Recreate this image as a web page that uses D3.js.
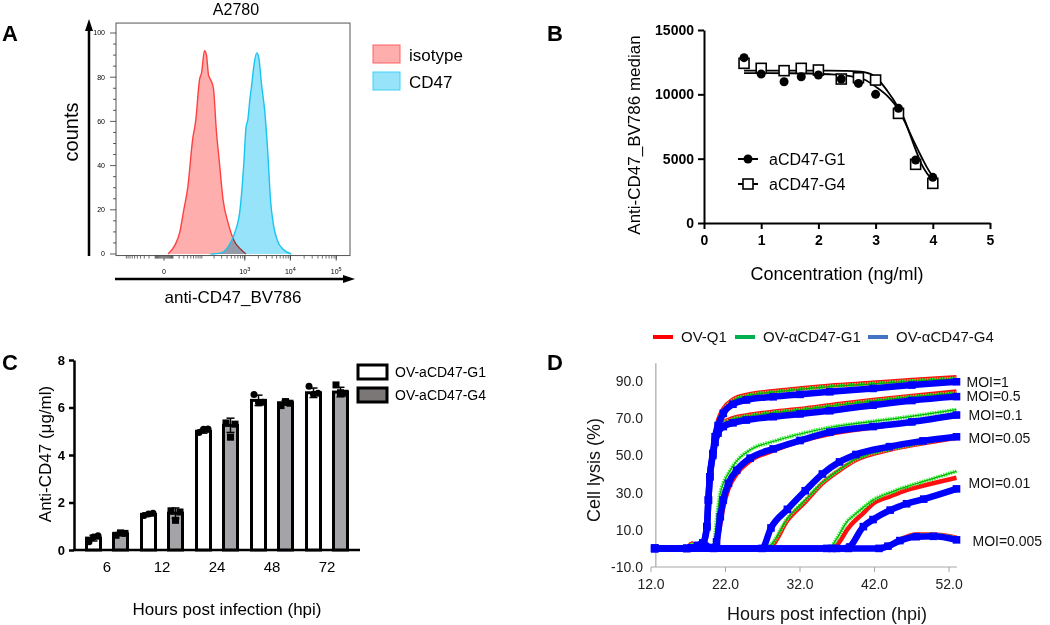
<!DOCTYPE html>
<html><head><meta charset="utf-8">
<script src="https://cdn.jsdelivr.net/npm/d3@7"></script>
<style>
body{margin:0;background:#fff;}
svg{font-family:"Liberation Sans",Arial,sans-serif;}
</style></head><body>
<svg id="c" width="1050" height="625"></svg>
<script>
// ---------- Panel A data (flow histogram) ----------
const isoX  = [3.9, 12.8, 21.4, 29.9, 40.4, 56.7, 68.6, 87.5, 98.4, 117, 131, 147, 164, 193, 226, 265, 327, 424, 577, 823, 1060];
const isoY  = [0, 4, 10, 20, 30, 52, 60, 79, 82, 92, 90, 81, 79, 75, 56, 42, 24, 14, 6, 2, 0];
const cd47X = [164, 295, 446, 607, 782, 958, 1060, 1172, 1296, 1432, 1584, 1840, 2032, 2361, 2743, 3186, 3700, 4293, 5236, 7052, 10480];
const cd47Y = [0, 0.5, 4, 10, 20, 42, 57, 61, 70, 77, 85, 91, 89, 76, 65, 47, 24, 13, 6, 2, 0];
const aXTickLabels = [["0",""],["10","3"],["10","4"],["10","5"]];
const aXTickValues = [0, 1000, 10000, 100000];
const aLegend = ["isotype", "CD47"];

// ---------- Panel B data ----------
const concLog  = [0.7, 1.0, 1.4, 1.7, 2.0, 2.4, 2.7, 3.0, 3.4, 3.7, 4.0];
const g1Median = [12850, 11580, 10980, 11370, 11500, 11190, 10850, 10000, 8910, 4900, 3550];
const g4Median = [12410, 12020, 11840, 12020, 11890, 11190, 11290, 11110, 8520, 4560, 3080];
const fitLog   = [0.7, 1.5, 2.2, 2.5, 2.8, 3.0, 3.2, 3.4, 3.5, 3.6, 3.7, 3.8, 3.9, 4.0];
const g1Fit    = [11650, 11640, 11560, 11450, 11150, 10600, 9900, 8800, 7950, 7000, 6050, 5150, 4300, 3600];
const g4Fit    = [11850, 11850, 11840, 11820, 11720, 11350, 10300, 8950, 8100, 6900, 5700, 4600, 3850, 3320];
const bLegend  = ["aCD47-G1", "aCD47-G4"];

// ---------- Panel C data ----------
const hpi    = ["6", "12", "24", "48", "72"];
const g1Mean = [0.5, 1.5, 5.0, 6.3, 6.62];
const g4Mean = [0.68, 1.55, 5.25, 6.2, 6.65];
const g1SD   = [0.12, 0.06, 0.08, 0.22, 0.2];
const g4SD   = [0.07, 0.22, 0.3, 0.1, 0.2];
const g1Reps = [[0.35, 0.55, 0.6], [1.45, 1.52, 1.55], [4.95, 5.08, 5.1], [6.55, 6.2, 6.22], [6.9, 6.55, 6.6]];
const g4Reps = [[0.62, 0.72, 0.7], [1.65, 1.25, 1.6], [5.35, 4.75, 5.3], [6.08, 6.25, 6.18], [6.95, 6.62, 6.6]];
const cLegend = ["OV-aCD47-G1", "OV-aCD47-G4"];

// ---------- Panel D data (cell lysis %) ----------
const hoursMOI1 = [12.5, 16.8, 17.5, 18.3, 19.0, 19.5, 19.7, 19.9, 20.3, 20.6, 21.0, 21.7, 23.0, 24.8, 28.4, 32.0, 36.0, 41.8, 47.0, 53.0];
const q1MOI1  = [0, 0, 2.5, 0.8, 1.5, 12, 27, 40, 53, 62, 69, 75, 80, 82.5, 84.5, 86, 87.5, 89, 90.5, 92];
const g1MOI1  = [0, 0, 2, 0.8, 1.5, 11, 26, 39, 52, 61, 68, 74, 79.5, 82, 84, 85.5, 87, 88.5, 90, 91.3];
const g4MOI1  = [0, 0, 0.3, 1.5, 3, 11.7, 26, 38.5, 51, 60, 66, 72.6, 77.5, 79.8, 81.5, 82.8, 84.2, 86, 87.8, 89.6];
const q1MOI05 = [0, 0, 2.5, 0.8, 1.5, 12, 27, 40, 52, 59, 64, 67.5, 70, 71.5, 73.5, 75, 77, 79.8, 82, 84.3];
const g1MOI05 = [0, 0, 2, 0.8, 1.5, 11, 26, 39, 51, 58, 63, 67, 69.5, 71, 73, 74.5, 76.5, 79.3, 81.5, 83.5];
const g4MOI05 = [0, 0, 0.3, 1.5, 3, 11.7, 26, 38.5, 50, 57, 62, 65.5, 67.5, 69, 70.8, 72.3, 74, 77, 79.5, 81.6];
const hoursMOI01 = [12.5, 16.8, 17.5, 18.3, 19.0, 19.8, 20.4, 20.8, 21.3, 21.7, 22.4, 23.5, 25.3, 28.4, 32.0, 36.0, 41.8, 47.0, 53.0];
const q1MOI01 = [0, 0, 2.5, 0.8, 1.5, 0.3, 0, 2, 13, 22, 32, 40, 47, 52.5, 57.5, 61.5, 65, 68, 72];
const g1MOI01 = [0, 0, 2, 0.8, 1.5, 0.3, 0, 15, 29.7, 35, 40.4, 47, 53, 57.5, 61.5, 65, 68.3, 71, 74.6];
const g4MOI01 = [0, 0, 0.3, 1.5, 3, 0.5, 0, 3.6, 17, 26, 35, 42, 48.5, 53.5, 58, 62.5, 65.5, 68, 71.7];
const hoursMOI005 = [12.5, 26.9, 28.1, 30.3, 32.7, 35.0, 37.3, 39.5, 44.0, 48.5, 53.0];
const q1MOI005 = [0, 0, 1, 15, 25, 35, 42, 47.5, 53, 56.5, 59.5];
const g1MOI005 = [0, 0, 2, 16, 26, 35.5, 42.5, 48, 53.3, 56.8, 59.8];
const g4MOI005 = [0, 0, 11, 21, 31, 40, 46.5, 50.5, 54.7, 57.8, 60];
const hoursMOI001 = [12.5, 35.6, 36.3, 36.9, 38.5, 38.7, 40.5, 41.8, 44.1, 46.3, 48.6, 53.0];
const q1MOI001 = [0, 0, 0, 1.5, 11, 12, 19, 24, 28, 31.4, 33.8, 38];
const g1MOI001 = [0, 0, 1.5, 5, 15.3, 16, 22, 26, 30, 33.2, 36, 41.5];
const g4MOI001 = [0, 0, 0, 0, 0, 0.8, 11.7, 15.5, 20.6, 24, 26.5, 32];
const hoursMOI0005 = [12.5, 42.6, 43.8, 45.4, 47.6, 49.9, 53.0];
const q1MOI0005 = [0, 0, 1.5, 4.8, 7.5, 7.5, 5.8];
const g1MOI0005 = [0, 0, 1.5, 4.6, 7.2, 7.3, 5.6];
const g4MOI0005 = [0, 0, 1.2, 4.2, 6.3, 6.5, 4.6];
const moiLabels = ["MOI=1", "MOI=0.5", "MOI=0.1", "MOI=0.05", "MOI=0.01", "MOI=0.005"];
const moiLabelY = [89.5, 81.9, 71.7, 59.4, 35.2, 4.0];
const dSeries = ["OV-Q1", "OV-\u03b1CD47-G1", "OV-\u03b1CD47-G4"];
const dYTicks = [-10, 10, 30, 50, 70, 90];
const dXTicks = [12, 22, 32, 42, 52];

const svg = d3.select("#c");
const zip = (a, b) => a.map((v, i) => [v, b[i]]);

// panel letters
[["A", 2, 41], ["B", 547, 41], ["C", 2, 370], ["D", 547, 370]].forEach(([t, x, y]) =>
  svg.append("text").attr("x", x).attr("y", y).attr("font-size", 22).attr("font-weight", "bold").text(t));

// ================= Panel A =================
{
  const g = svg.append("g");
  const xA = d3.scaleSymlog().constant(17.7).domain([-180, 200000]).range([116, 350]);
  const yA = d3.scaleLinear().domain([0, 100]).range([254, 33]);
  const y0 = yA(0);
  const area = d3.area().x(d => xA(d[0])).y0(y0).y1(d => yA(d[1])).curve(d3.curveMonotoneX);
  const line = d3.line().x(d => xA(d[0])).y(d => yA(d[1])).curve(d3.curveMonotoneX);
  const iso = zip(isoX, isoY), cd = zip(cd47X, cd47Y);
  g.append("path").attr("d", area(iso)).attr("fill", "#ff6b6b").attr("fill-opacity", 0.55);
  g.append("path").attr("d", line(iso)).attr("fill", "none").attr("stroke", "#ff4040").attr("stroke-width", 1.4);
  g.append("path").attr("d", area(cd)).attr("fill", "#2ec8f5").attr("fill-opacity", 0.5).style("mix-blend-mode", "multiply");
  g.append("path").attr("d", line(cd)).attr("fill", "none").attr("stroke", "#18c4f0").attr("stroke-width", 1.4);
  // frame
  g.append("rect").attr("x", 116).attr("y", yA(104.5)).attr("width", 234).attr("height", yA(-0.7) - yA(104.5))
    .attr("fill", "none").attr("stroke", "#555").attr("stroke-width", 1);
  const fb = yA(-0.7);
  // y ticks
  d3.range(0, 101, 5).forEach(v => {
    const major = v % 20 === 0;
    g.append("line").attr("x1", 116 - (major ? 6 : 3)).attr("x2", 116).attr("y1", yA(v)).attr("y2", yA(v)).attr("stroke", "#333").attr("stroke-width", 0.8);
    if (major) g.append("text").attr("x", 105).attr("y", yA(v)).attr("dy", "0.35em").attr("text-anchor", "end").attr("font-size", 7).text(v);
  });
  // x ticks (biexponential)
  const minor = [];
  for (let k = 0; k <= 5; k++) for (let m = 1; m <= 9; m++) { minor.push(m * 10 ** k); minor.push(-m * 10 ** k); }
  minor.filter(v => v > -180 && v < 200000).forEach(v => {
    g.append("line").attr("x1", xA(v)).attr("x2", xA(v)).attr("y1", fb).attr("y2", fb + 3).attr("stroke", "#333").attr("stroke-width", 0.7);
  });
  aXTickValues.forEach((v, i) => {
    g.append("line").attr("x1", xA(v)).attr("x2", xA(v)).attr("y1", fb).attr("y2", fb + 5).attr("stroke", "#333").attr("stroke-width", 0.9);
    const t = g.append("text").attr("x", xA(v)).attr("y", 274).attr("text-anchor", "middle").attr("font-size", 7);
    t.append("tspan").text(aXTickLabels[i][0]);
    if (aXTickLabels[i][1]) t.append("tspan").attr("dy", -3).attr("font-size", 5.5).text(aXTickLabels[i][1]);
  });
  // arrows
  g.append("line").attr("x1", 89).attr("x2", 89).attr("y1", 256).attr("y2", 28).attr("stroke", "#000").attr("stroke-width", 2.5);
  g.append("path").attr("d", "M89,19 L85,31 L93,31 Z").attr("fill", "#000");
  g.append("line").attr("x1", 115).attr("x2", 346).attr("y1", 279).attr("y2", 279).attr("stroke", "#000").attr("stroke-width", 2.5);
  g.append("path").attr("d", "M355,279 L343,275 L343,283 Z").attr("fill", "#000");
  g.append("text").attr("x", 236).attr("y", 15).attr("text-anchor", "middle").attr("font-size", 16).text("A2780");
  g.append("text").attr("transform", "translate(78,132) rotate(-90)").attr("text-anchor", "middle").attr("font-size", 20).text("counts");
  g.append("text").attr("x", 233).attr("y", 303).attr("text-anchor", "middle").attr("font-size", 17).text("anti-CD47_BV786");
  // legend
  const lf = [["#ff6b6b", 0.55, "#ff6060"], ["#2ec8f5", 0.5, "#40d0f5"]];
  aLegend.forEach((t, i) => {
    g.append("rect").attr("x", 373).attr("y", 45 + i * 27).attr("width", 27).attr("height", 18)
      .attr("fill", lf[i][0]).attr("fill-opacity", lf[i][1]).attr("stroke", lf[i][2]).attr("stroke-width", 1);
    g.append("text").attr("x", 409).attr("y", 61 + i * 27).attr("font-size", 17).text(t);
  });
}

// ================= Panel B =================
{
  const g = svg.append("g");
  const xB = d3.scaleLinear().domain([0, 5]).range([704, 990]);
  const yB = d3.scaleLinear().domain([0, 15000]).range([223, 30]);
  const ax = g.append("g").attr("transform", "translate(0,223)")
    .call(d3.axisBottom(xB).tickValues([0, 1, 2, 3, 4, 5]).tickFormat(d3.format("d")).tickSize(6).tickSizeOuter(0).tickPadding(6));
  const ay = g.append("g").attr("transform", "translate(704,0)")
    .call(d3.axisLeft(yB).tickValues([0, 5000, 10000, 15000]).tickFormat(d3.format("d")).tickSize(6).tickSizeOuter(0).tickPadding(4));
  [ax, ay].forEach(a => {
    a.select(".domain").attr("stroke-width", 2);
    a.selectAll(".tick line").attr("stroke-width", 2);
    a.selectAll("text").attr("font-size", 14).attr("font-weight", "bold").attr("font-family", '"Liberation Sans",Arial,sans-serif').attr("fill", "#000");
  });
  const fl = d3.line().x(d => xB(d[0])).y(d => yB(d[1])).curve(d3.curveMonotoneX);
  g.append("path").attr("d", fl(zip(fitLog, g1Fit))).attr("fill", "none").attr("stroke", "#000").attr("stroke-width", 1.8);
  g.append("path").attr("d", fl(zip(fitLog, g4Fit))).attr("fill", "none").attr("stroke", "#000").attr("stroke-width", 1.8);
  concLog.forEach((c, i) => {
    g.append("rect").attr("x", xB(c) - 5).attr("y", yB(g4Median[i]) - 5).attr("width", 10).attr("height", 10)
      .attr("fill", "#fff").attr("stroke", "#000").attr("stroke-width", 1.6);
  });
  concLog.forEach((c, i) => {
    g.append("circle").attr("cx", xB(c)).attr("cy", yB(g1Median[i])).attr("r", 4.5).attr("fill", "#000");
  });
  bLegend.forEach((t, i) => {
    const y = 159 + i * 25;
    g.append("line").attr("x1", 738).attr("x2", 758).attr("y1", y).attr("y2", y).attr("stroke", "#000").attr("stroke-width", 2);
    if (i === 0) g.append("circle").attr("cx", 748).attr("cy", y).attr("r", 4.5).attr("fill", "#000");
    else g.append("rect").attr("x", 743).attr("y", y - 5).attr("width", 10).attr("height", 10).attr("fill", "#fff").attr("stroke", "#000").attr("stroke-width", 1.6);
    g.append("text").attr("x", 769).attr("y", y + 6).attr("font-size", 16).text(t);
  });
  g.append("text").attr("transform", "translate(640,135) rotate(-90)").attr("text-anchor", "middle").attr("font-size", 17).text("Anti-CD47_BV786 median");
  g.append("text").attr("x", 837).attr("y", 280).attr("text-anchor", "middle").attr("font-size", 18).text("Concentration (ng/ml)");
}

// ================= Panel C =================
{
  const g = svg.append("g");
  const yC = d3.scaleLinear().domain([0, 8]).range([550, 360]);
  const xC = d3.scaleBand().domain(hpi).range([79.5, 354.5]);
  const x1 = d3.scaleBand().domain(["G1", "G4"]).range([-20.5, 20.5]).paddingInner(13 / 27).paddingOuter(0);
  const ay = g.append("g").attr("transform", "translate(74,0)")
    .call(d3.axisLeft(yC).tickValues([0, 2, 4, 6, 8]).tickSize(5).tickSizeOuter(0).tickPadding(4));
  ay.select(".domain").attr("stroke-width", 2.5);
  ay.selectAll(".tick line").attr("stroke-width", 2.5);
  ay.selectAll("text").attr("font-size", 13).attr("font-weight", "bold").attr("font-family", '"Liberation Sans",Arial,sans-serif').attr("fill", "#000");
  g.append("line").attr("x1", 73).attr("x2", 360).attr("y1", yC(0)).attr("y2", yC(0)).attr("stroke", "#000").attr("stroke-width", 2.5);
  const groups = [
    { key: "G1", mean: g1Mean, sd: g1SD, reps: g1Reps, fill: "#ffffff", shape: "circle" },
    { key: "G4", mean: g4Mean, sd: g4SD, reps: g4Reps, fill: "#a4a4a8", shape: "square" }
  ];
  hpi.forEach((h, i) => {
    const gc = xC(h) + xC.bandwidth() / 2;
    groups.forEach(s => {
      const cx = gc + x1(s.key) + x1.bandwidth() / 2;
      const w = x1.bandwidth();
      const m = s.mean[i];
      g.append("rect").attr("x", cx - w / 2).attr("y", yC(m)).attr("width", w).attr("height", yC(0) - yC(m))
        .attr("fill", s.fill).attr("stroke", "#000").attr("stroke-width", 3);
      const lo = yC(m - s.sd[i]), hi = yC(m + s.sd[i]);
      g.append("line").attr("x1", cx).attr("x2", cx).attr("y1", lo).attr("y2", hi).attr("stroke", "#000").attr("stroke-width", 1.5);
      [lo, hi].forEach(yy => g.append("line").attr("x1", cx - 4).attr("x2", cx + 4).attr("y1", yy).attr("y2", yy).attr("stroke", "#000").attr("stroke-width", 1.5));
      const offs = [-4.5, 0, 4.5];
      s.reps[i].forEach((v, j) => {
        if (s.shape === "circle") g.append("circle").attr("cx", cx + offs[j]).attr("cy", yC(v)).attr("r", 3.5).attr("fill", "#000");
        else g.append("rect").attr("x", cx + offs[j] - 3.5).attr("y", yC(v) - 3.5).attr("width", 7).attr("height", 7).attr("fill", "#000");
      });
    });
    g.append("text").attr("x", gc).attr("y", 572).attr("text-anchor", "middle").attr("font-size", 15).text(h);
  });
  cLegend.forEach((t, i) => {
    g.append("rect").attr("x", 358).attr("y", 365 + i * 23).attr("width", 29).attr("height", 14)
      .attr("fill", i === 0 ? "#fff" : "#7b7777").attr("stroke", "#000").attr("stroke-width", 3);
    g.append("text").attr("x", 395).attr("y", 377 + i * 23).attr("font-size", 14).text(t);
  });
  g.append("text").attr("x", 227).attr("y", 615).attr("text-anchor", "middle").attr("font-size", 17).text("Hours post infection (hpi)");
  g.append("text").attr("transform", "translate(51,454) rotate(-90)").attr("text-anchor", "middle").attr("font-size", 17).text("Anti-CD47 (\u03bcg/ml)");
}

// ================= Panel D =================
{
  const g = svg.append("g");
  const xD = d3.scaleLinear().domain([12, 53]).range([651, 956.5]);
  const yD = d3.scaleLinear().domain([-10, 100]).range([567, 362.4]);
  // axes
  g.append("line").attr("x1", xD(12.65)).attr("x2", xD(12.65)).attr("y1", yD(99.5)).attr("y2", yD(-10)).attr("stroke", "#a8a8a8").attr("stroke-width", 1.2);
  g.append("line").attr("x1", xD(12)).attr("x2", xD(53.05)).attr("y1", yD(-10)).attr("y2", yD(-10)).attr("stroke", "#a8a8a8").attr("stroke-width", 1.2);
  dXTicks.forEach(t => {
    g.append("line").attr("x1", xD(t)).attr("x2", xD(t)).attr("y1", yD(-10)).attr("y2", yD(-10) + 5).attr("stroke", "#a8a8a8").attr("stroke-width", 1);
    g.append("text").attr("x", xD(t)).attr("y", 589).attr("text-anchor", "middle").attr("font-size", 14).attr("fill", "#222").text(t.toFixed(1));
  });
  dYTicks.forEach(t => {
    g.append("text").attr("x", 643).attr("y", yD(t)).attr("dy", "0.35em").attr("text-anchor", "end").attr("font-size", 14).attr("fill", "#222").text(t.toFixed(1));
  });
  const sets = [
    [hoursMOI1, q1MOI1, g1MOI1, g4MOI1],
    [hoursMOI1, q1MOI05, g1MOI05, g4MOI05],
    [hoursMOI01, q1MOI01, g1MOI01, g4MOI01],
    [hoursMOI005, q1MOI005, g1MOI005, g4MOI005],
    [hoursMOI001, q1MOI001, g1MOI001, g4MOI001],
    [hoursMOI0005, q1MOI0005, g1MOI0005, g4MOI0005]
  ];
  const ln = d3.line().x(d => xD(d[0])).y(d => yD(d[1])).curve(d3.curveMonotoneX);
  // red
  sets.forEach(s => g.append("path").attr("d", ln(zip(s[0], s[1]))).attr("fill", "none").attr("stroke", "#ff1010").attr("stroke-width", 4.5).attr("stroke-linejoin", "round"));
  // green
  sets.forEach(s => {
    g.append("path").attr("d", ln(zip(s[0], s[2]))).attr("fill", "none").attr("stroke", "#3ef03e").attr("stroke-width", 4).attr("stroke-dasharray", "1.5,1");
    g.append("path").attr("d", ln(zip(s[0], s[2]))).attr("fill", "none").attr("stroke", "#00b400").attr("stroke-width", 1.2);
  });
  // blue
  sets.forEach(s => {
    g.append("path").attr("d", ln(zip(s[0], s[3]))).attr("fill", "none").attr("stroke", "#0000ff").attr("stroke-width", 6.5).attr("stroke-linejoin", "round");
    s[0].forEach((h, i) => g.append("rect").attr("x", xD(h) - 3.8).attr("y", yD(s[3][i]) - 3.8).attr("width", 7.6).attr("height", 7.6).attr("fill", "#0000ff"));
  });
  moiLabels.forEach((t, i) => {
    g.append("text").attr("x", xD(53) + (i < 2 ? 10 : (i === 5 ? 16 : 12))).attr("y", yD(moiLabelY[i])).attr("dy", "0.35em").attr("font-size", 14).attr("fill", "#111").text(t);
  });
  // legend
  const lc = ["#ff0000", "#00b050", "#4472c4"];
  const lx = [653, 735, 868];
  dSeries.forEach((t, i) => {
    g.append("line").attr("x1", lx[i]).attr("x2", lx[i] + 20).attr("y1", 337).attr("y2", 337).attr("stroke", lc[i]).attr("stroke-width", 4);
    g.append("text").attr("x", lx[i] + 28).attr("y", 342).attr("font-size", 15).attr("fill", "#111").text(t);
  });
  g.append("text").attr("x", 827).attr("y", 620).attr("text-anchor", "middle").attr("font-size", 18).attr("fill", "#111").text("Hours post infection (hpi)");
  g.append("text").attr("transform", "translate(600,470) rotate(-90)").attr("text-anchor", "middle").attr("font-size", 18).attr("fill", "#111").text("Cell lysis (%)");
}
</script></body></html>
